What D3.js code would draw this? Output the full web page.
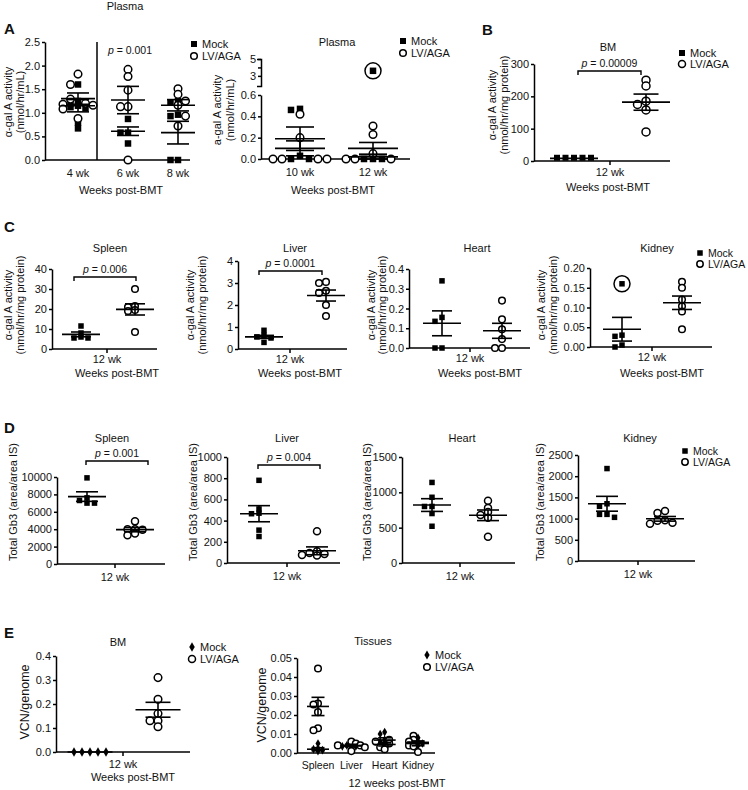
<!DOCTYPE html>
<html>
<head>
<meta charset="utf-8">
<script src="https://cdn.jsdelivr.net/npm/d3@7"></script>
<style>
  body { margin: 0; background: #fff; }
  text { font-family: "Liberation Sans", Arial, sans-serif; fill: #111; }
</style>
</head>
<body>
<div id="chart"></div>
<script>
// ---- data ----

// A: plasma, 4-8 weeks
var plasmaCats1 = ["4 wk", "6 wk", "8 wk"];
var plasmaMock1 = [[1.6, 1.25, 1.2, 1.15, 1.12, 1.1, 0.79, 0.67], [0.87, 0.58, 0.58, 0.35], [1.25, 1.22, 0.96, 0.93, 0, 0]];
var plasmaLV1 = [[1.82, 1.6, 1.29, 1.2, 1.18, 1.16, 1.08, 0.88], [1.92, 1.77, 1.48, 1.13, 1.13, 0], [1.51, 1.39, 1.25, 1.16, 0.93, 0.72]];
var plasmaMock1Mean = [1.15, 0.61, 0.58];
var plasmaMock1Sem = [0.13, 0.09, 0.24];
var plasmaLV1Mean = [1.3, 1.27, 1.16];
var plasmaLV1Sem = [0.12, 0.29, 0.12];

// A: plasma, 10-12 weeks (broken axis)
var plasmaCats2 = ["10 wk", "12 wk"];
var plasmaMock2 = [[0.47, 0.46, 0.03, 0, 0], [0, 0, 0]];
var plasmaLV2 = [[0.42, 0.2, 0, 0, 0, 0], [0.31, 0.23, 0.05, 0, 0, 0]];
var plasmaMock2Mean = [0.19, 0.02];
var plasmaMock2Sem = [0.11, 0.02];
var plasmaLV2Mean = [0.1, 0.1];
var plasmaLV2Sem = [0.07, 0.055];
var plasmaOutlier = 3.6; // circled mock point, 12 wk

// B: bone marrow activity
var wk12 = ["12 wk"];
var bmActMock = [[10, 10, 10, 10, 10]];
var bmActLV = [[250, 232, 185, 175, 158, 90]];
var bmActMean = [8, 182];
var bmActSem = [0, 25];

// C: tissue activity
var spleenActMock = [[11.5, 8, 6, 5.5, 5.5]];
var spleenActLV = [[30, 21.5, 21, 19.5, 19, 8.5]];
var spleenActMean = [7.3, 19.8];
var spleenActSem = [1.2, 2.8];
var liverActMock = [[0.85, 0.62, 0.55, 0.5, 0.3]];
var liverActLV = [[3.05, 3.0, 2.65, 2.55, 2.0, 1.5]];
var liverActMean = [0.55, 2.43];
var liverActSem = [0.07, 0.25];
var heartActMock = [[0.34, 0.155, 0.135, 0, 0]];
var heartActLV = [[0.24, 0.145, 0.095, 0.045, 0, 0]];
var heartActMean = [0.125, 0.087];
var heartActSem = [0.063, 0.038];
var kidneyActMock = [[0.03, 0.027, 0.005, 0]];
var kidneyActLV = [[0.165, 0.15, 0.12, 0.103, 0.09, 0.045]];
var kidneyActMean = [0.045, 0.112];
var kidneyActSem = [0.03, 0.017];
var kidneyActOutlier = 0.16;

// D: total Gb3
var spleenGb3Mock = [[9900, 7600, 7300, 7000, 7000]];
var spleenGb3LV = [[4900, 4000, 4000, 3950, 3500, 3300]];
var spleenGb3Mean = [7750, 3950];
var spleenGb3Sem = [550, 250];
var liverGb3Mock = [[780, 510, 470, 465, 310, 250]];
var liverGb3LV = [[300, 110, 95, 85, 75, 70]];
var liverGb3Mean = [465, 115];
var liverGb3Sem = [76, 37];
var heartGb3Mock = [[1140, 930, 800, 800, 700, 520]];
var heartGb3LV = [[880, 780, 720, 680, 640, 370]];
var heartGb3Mean = [820, 675];
var heartGb3Sem = [90, 75];
var kidneyGb3Mock = [[2180, 1350, 1290, 1100, 1100, 1030]];
var kidneyGb3LV = [[1180, 1130, 960, 950, 900, 880]];
var kidneyGb3Mean = [1350, 995];
var kidneyGb3Sem = [175, 55];

// E: vector copy number
var bmVcnMock = [[0, 0, 0, 0, 0]];
var bmVcnLV = [[0.31, 0.22, 0.16, 0.13, 0.13, 0.105]];
var bmVcnMean = [0, 0.176];
var bmVcnSem = [0, 0.031];
var tissueCats = ["Spleen", "Liver", "Heart", "Kidney"];
var vcnMock = [[0.005, 0.0025, 0.002, 0.0015, 0.001], [0.0045, 0.004, 0.0035, 0.003, 0.0035], [0.011, 0.01, 0.007, 0.006, 0.005], [0.008, 0.006, 0.005, 0.005, 0.004]];
var vcnLV = [[0.0445, 0.026, 0.0255, 0.0215, 0.013, 0.012], [0.006, 0.005, 0.004, 0.004, 0.003, 0.001], [0.007, 0.006, 0.005, 0.0035, 0.003, 0.002], [0.009, 0.007, 0.006, 0.004, 0.0035, 0.0005]];
var vcnMockMean = [0.002, 0.0037, 0.0068, 0.0056];
var vcnMockSem = [0.0008, 0.0003, 0.0012, 0.0007];
var vcnLVMean = [0.0245, 0.004, 0.0045, 0.005];
var vcnLVSem = [0.0048, 0.0006, 0.0008, 0.0012];

// ---- drawing ----
var FS = 11;
var svg = d3.select("#chart").append("svg")
  .attr("width", 748)
  .attr("height", 790);

function styleAxis(sel, fs) {
  sel.selectAll("text").attr("font-size", fs || FS).attr("fill", "#111");
  sel.selectAll("line,path").attr("stroke", "#000").attr("stroke-width", 1.5);
  return sel;
}

function marker(g, shape, x, y, o) {
  if (shape === "square") {
    g.append("rect").attr("x", x - o.sq / 2).attr("y", y - o.sq / 2)
      .attr("width", o.sq).attr("height", o.sq).attr("fill", "#000");
  } else if (shape === "diamond") {
    g.append("path").attr("d", d3.symbol(d3.symbolDiamond, o.dia || 28)())
      .attr("transform", "translate(" + x + "," + y + ")").attr("fill", "#000");
  } else {
    g.append("circle").attr("cx", x).attr("cy", y).attr("r", o.r)
      .attr("fill", "#fff").attr("stroke", "#000").attr("stroke-width", 1.5);
  }
}

function text(x, y, s, fs, anchor, weight) {
  return svg.append("text").attr("x", x).attr("y", y)
    .attr("font-size", fs || FS).attr("text-anchor", anchor || "middle")
    .attr("font-weight", weight || "normal").text(s);
}

function yTitle(lines, xs, cy, fs) {
  lines.forEach(function(s, i) {
    svg.append("text").attr("transform", "translate(" + xs[i] + "," + cy + ") rotate(-90)")
      .attr("text-anchor", "middle").attr("font-size", fs || FS).text(s);
  });
}

function legend(x, y1, y2, mockShape, o) {
  var g = svg.append("g");
  marker(g, mockShape, x, y1, o);
  marker(g, "circle", x, y2, o);
  text(x + 8, y1 + 4, "Mock", o.fs || FS, "start");
  text(x + 8, y2 + 4, "LV/AGA", o.fs || FS, "start");
}

function pBracket(xa, xb, yb, label) {
  svg.append("path")
    .attr("d", "M" + xa + "," + (yb + 4) + "V" + yb + "H" + xb + "V" + (yb + 4))
    .attr("fill", "none").attr("stroke", "#000").attr("stroke-width", 1.4);
  pText((xa + xb) / 2, yb - 4, label);
}

function pText(x, y, label) {
  var t = svg.append("text").attr("x", x).attr("y", y).attr("font-size", 10.5).attr("text-anchor", "middle");
  t.append("tspan").attr("font-style", "italic").text("p");
  t.append("tspan").text(" = " + label);
}

function panel(o) {
  var y = o.yScale || d3.scaleLinear().domain(o.domain).range([o.yBot, o.yTop]);
  var x = d3.scalePoint().domain(o.cats).range(o.catRange);
  var g = svg.append("g");

  if (!o.yScale) {
    var axis = d3.axisLeft(y).tickValues(o.ticks).tickFormat(d3.format(o.fmt))
      .tickSize(3).tickPadding(2).tickSizeOuter(0);
    styleAxis(g.append("g").attr("transform", "translate(" + o.x0 + ",0)").call(axis));
  }

  g.append("line").attr("x1", o.x0).attr("x2", o.x1)
    .attr("y1", o.yBot).attr("y2", o.yBot)
    .attr("stroke", "#000").attr("stroke-width", 1.5);

  o.cats.forEach(function(c) {
    if (o.catTicks) {
      g.append("line").attr("x1", x(c)).attr("x2", x(c))
        .attr("y1", o.yBot).attr("y2", o.yBot + 4)
        .attr("stroke", "#000").attr("stroke-width", 1.5);
    }
    text(x(c), o.yBot + o.labelDy, c, o.catFs || FS);
  });

  // points, spread sideways so they do not overlap too much
  var placed = [];
  var gapY = o.gapY || o.gap * 0.5;
  o.groups.forEach(function(grp) {
    grp.values.forEach(function(vals, i) {
      var cx = x(o.cats[i]) + grp.dx;
      vals.forEach(function(v) {
        var py = y(v), off = 0;
        for (var k = 0; k < 30; k++) {
          off = k === 0 ? 0 : (k % 2 ? -1 : 1) * Math.ceil(k / 2) * o.gap;
          var hit = placed.some(function(p) {
            return Math.abs(p.x - (cx + off)) < o.gap * 0.9 && Math.abs(p.y - py) < gapY;
          });
          if (!hit) break;
        }
        placed.push({ x: cx + off, y: py, shape: grp.shape });
      });
    });
  });
  placed.forEach(function(p) { marker(g, p.shape, p.x, p.y, o); });

  // mean and SEM
  o.groups.forEach(function(grp) {
    grp.mean.forEach(function(m, i) {
      var cx = x(o.cats[i]) + grp.dx;
      var s = grp.sem[i];
      var ln = function(x1, x2, y1, y2) {
        g.append("line").attr("x1", x1).attr("x2", x2).attr("y1", y1).attr("y2", y2)
          .attr("stroke", "#000").attr("stroke-width", 1.6);
      };
      ln(cx - o.mw / 2, cx + o.mw / 2, y(m), y(m));
      if (s > 0) {
        ln(cx, cx, y(m - s), y(m + s));
        ln(cx - o.cw / 2, cx + o.cw / 2, y(m + s), y(m + s));
        ln(cx - o.cw / 2, cx + o.cw / 2, y(m - s), y(m - s));
      }
    });
  });
  return { x: x, y: y, g: g };
}

function ring(x, y) {
  svg.append("circle").attr("cx", x).attr("cy", y).attr("r", 8)
    .attr("fill", "none").attr("stroke", "#000").attr("stroke-width", 1.5);
}

// ---- panel A ----
text(125, 10, "Plasma");
text(4, 34, "A", 15, "start", "bold");
panel({
  x0: 45, x1: 190, yBot: 160, yTop: 42, domain: [0, 2.5], ticks: [0, 0.5, 1, 1.5, 2, 2.5], fmt: ".1f",
  cats: plasmaCats1, catRange: [78, 178], labelDy: 17, gap: 7.5, gapY: 3.5, r: 3.8, sq: 6.5, mw: 34, cw: 22,
  groups: [
    { values: plasmaMock1, mean: plasmaMock1Mean, sem: plasmaMock1Sem, shape: "square", dx: 0 },
    { values: plasmaLV1, mean: plasmaLV1Mean, sem: plasmaLV1Sem, shape: "circle", dx: 0 }
  ]
});
svg.append("line").attr("x1", 97).attr("x2", 97).attr("y1", 42).attr("y2", 160)
  .attr("stroke", "#000").attr("stroke-width", 1.5);
pText(130, 54, "0.001");
legend(194, 44, 56, "square", { r: 3.3, sq: 6 });
yTitle(["\u03b1-gal A activity", "(nmol/hr/mL)"], [12, 24], 102);
text(121, 194, "Weeks post-BMT");

// broken axis for 10-12 weeks
var yLow = d3.scaleLinear().domain([0, 0.6]).range([159, 95]);
var yHigh = d3.scaleLinear().domain([1.8, 5]).range([86, 59]);
var yBroken = function(v) { return v > 1 ? yHigh(v) : yLow(v); };
styleAxis(svg.append("g").attr("transform", "translate(261,0)")
  .call(d3.axisLeft(yLow).tickValues([0, 0.2, 0.4, 0.6]).tickFormat(d3.format(".1f")).tickSize(3).tickPadding(2).tickSizeOuter(0)));
styleAxis(svg.append("g").attr("transform", "translate(261,0)")
  .call(d3.axisLeft(yHigh).tickValues([3, 4, 5]).tickFormat(function(d) { return d === 4 ? "" : d; }).tickSize(3).tickPadding(2).tickSizeOuter(4)));
var pa = panel({
  x0: 261, x1: 410, yBot: 159, yScale: yBroken,
  cats: plasmaCats2, catRange: [300, 373], labelDy: 17, gap: 9, gapY: 4, r: 3.8, sq: 6.5, mw: 50, cw: 28,
  groups: [
    { values: plasmaMock2, mean: plasmaMock2Mean, sem: plasmaMock2Sem, shape: "square", dx: 0 },
    { values: plasmaLV2, mean: plasmaLV2Mean, sem: plasmaLV2Sem, shape: "circle", dx: 0 }
  ]
});
marker(svg, "square", pa.x("12 wk"), yBroken(plasmaOutlier), { sq: 6.5 });
ring(pa.x("12 wk"), yBroken(plasmaOutlier));
text(337, 46, "Plasma");
legend(403, 41, 53, "square", { r: 3.3, sq: 6 });
yTitle(["a-gal A activity", "(nmol/hr/mL)"], [221, 234], 110);
text(333, 194, "Weeks post-BMT");

// ---- panel B ----
text(482, 35, "B", 15, "start", "bold");
panel({
  x0: 534, x1: 670, yBot: 161, yTop: 64, domain: [0, 300], ticks: [0, 100, 200, 300], fmt: "d",
  cats: wk12, catRange: [610, 610], catTicks: true, labelDy: 15, gap: 8.5, r: 4, sq: 6, mw: 48, cw: 25,
  groups: [
    { values: bmActMock, mean: [bmActMean[0]], sem: [bmActSem[0]], shape: "square", dx: -36 },
    { values: bmActLV, mean: [bmActMean[1]], sem: [bmActSem[1]], shape: "circle", dx: 36 }
  ]
});
text(608, 51, "BM");
pBracket(578, 641, 71, "0.00009");
legend(682, 53, 64, "square", { r: 3.5, sq: 6 });
yTitle(["\u03b1-gal A activity", "(nmol/hr/mg protein)"], [496, 508], 105);
text(608, 191, "Weeks post-BMT");

// ---- panel C ----
text(4, 232, "C", 15, "start", "bold");
var actPanels = [
  { name: "Spleen", tx0: 110, x0: 52, x1: 157, tick: 107, dxs: [-26, 28], top: 269, bot: 349, dom: [0, 40], ticks: [0, 10, 20, 30, 40], fmt: "d",
    mock: spleenActMock, lv: spleenActLV, mean: spleenActMean, sem: spleenActSem, tx: [12, 24], p: [74, 136, 277, "0.006"] },
  { name: "Liver", tx0: 295, x0: 238, x1: 347, tick: 290, dxs: [-26, 36], top: 261, bot: 349, dom: [0, 4], ticks: [0, 1, 2, 3, 4], fmt: "d",
    mock: liverActMock, lv: liverActLV, mean: liverActMean, sem: liverActSem, tx: [194, 206], p: [259, 322, 271, "0.0001"] },
  { name: "Heart", tx0: 477, x0: 409, x1: 530, tick: 470, dxs: [-28, 32], top: 269, bot: 348, dom: [0, 0.4], ticks: [0, 0.1, 0.2, 0.3, 0.4], fmt: ".1f",
    mock: heartActMock, lv: heartActLV, mean: heartActMean, sem: heartActSem, tx: [375, 386] },
  { name: "Kidney", tx0: 657, x0: 590, x1: 712, tick: 652, dxs: [-30, 30], top: 268, bot: 347, dom: [0, 0.2], ticks: [0, 0.05, 0.1, 0.15, 0.2], fmt: ".2f",
    mock: kidneyActMock, lv: kidneyActLV, mean: kidneyActMean, sem: kidneyActSem, tx: [545, 557] }
];
actPanels.forEach(function(c) {
  var res = panel({
    x0: c.x0, x1: c.x1, yBot: c.bot, yTop: c.top, domain: c.dom, ticks: c.ticks, fmt: c.fmt,
    cats: wk12, catRange: [c.tick, c.tick], catTicks: true, labelDy: 14, gap: 7, gapY: 4, r: 3.3, sq: 5.5, mw: 38, cw: 20,
    groups: [
      { values: c.mock, mean: [c.mean[0]], sem: [c.sem[0]], shape: "square", dx: c.dxs[0] },
      { values: c.lv, mean: [c.mean[1]], sem: [c.sem[1]], shape: "circle", dx: c.dxs[1] }
    ]
  });
  text(c.tx0, 252, c.name);
  if (c.p) pBracket(c.p[0], c.p[1], c.p[2], c.p[3]);
  yTitle(["\u03b1-gal A activity", "(nmol/hr/mg protein)"], c.tx, 305);
  text(c.tick + 10, 377, "Weeks post-BMT");
  if (c.name === "Kidney") {
    var kx = c.tick + c.dxs[0], ky = res.y(kidneyActOutlier);
    marker(svg, "square", kx, ky, { sq: 5.5 });
    ring(kx, ky);
  }
});
legend(700, 253, 264, "square", { r: 3.2, sq: 5.5, fs: 10.5 });

// ---- panel D ----
text(4, 433, "D", 15, "start", "bold");
var gb3Panels = [
  { name: "Spleen", tx0: 112, x0: 57, x1: 165, tick: 115, dxs: [-28, 20], top: 477, bot: 564, dom: [0, 10000], ticks: d3.range(0, 10001, 2000),
    mock: spleenGb3Mock, lv: spleenGb3LV, mean: spleenGb3Mean, sem: spleenGb3Sem, tx: 17, p: [86, 148, 461, "0.001"] },
  { name: "Liver", tx0: 287, x0: 227, x1: 340, tick: 287, dxs: [-28, 30], top: 457, bot: 563, dom: [0, 1000], ticks: d3.range(0, 1001, 200),
    mock: liverGb3Mock, lv: liverGb3LV, mean: liverGb3Mean, sem: liverGb3Sem, tx: 197, p: [258, 320, 465, "0.004"] },
  { name: "Heart", tx0: 462, x0: 402, x1: 515, tick: 460, dxs: [-28, 28], top: 457, bot: 563, dom: [0, 1500], ticks: [0, 500, 1000, 1500],
    mock: heartGb3Mock, lv: heartGb3LV, mean: heartGb3Mean, sem: heartGb3Sem, tx: 371 },
  { name: "Kidney", tx0: 640, x0: 578, x1: 695, tick: 638, dxs: [-31, 27], top: 455, bot: 561, dom: [0, 2500], ticks: d3.range(0, 2501, 500),
    mock: kidneyGb3Mock, lv: kidneyGb3LV, mean: kidneyGb3Mean, sem: kidneyGb3Sem, tx: 544 }
];
gb3Panels.forEach(function(c) {
  panel({
    x0: c.x0, x1: c.x1, yBot: c.bot, yTop: c.top, domain: c.dom, ticks: c.ticks, fmt: "d",
    cats: wk12, catRange: [c.tick, c.tick], catTicks: true, labelDy: 17, gap: 7.5, gapY: 4, r: 3.5, sq: 5.5, mw: 38, cw: 22,
    groups: [
      { values: c.mock, mean: [c.mean[0]], sem: [c.sem[0]], shape: "square", dx: c.dxs[0] },
      { values: c.lv, mean: [c.mean[1]], sem: [c.sem[1]], shape: "circle", dx: c.dxs[1] }
    ]
  });
  text(c.tx0, 442, c.name);
  if (c.p) pBracket(c.p[0], c.p[1], c.p[2], c.p[3]);
  yTitle(["Total Gb3 (area/area IS)"], [c.tx], 502);
});
legend(685, 451, 462, "square", { r: 3.2, sq: 5.5, fs: 10.5 });

// ---- panel E ----
text(4, 638, "E", 15, "start", "bold");
panel({
  x0: 56, x1: 190, yBot: 752, yTop: 656, domain: [0, 0.4], ticks: [0, 0.1, 0.2, 0.3, 0.4], fmt: ".1f",
  cats: wk12, catRange: [123, 123], catTicks: true, labelDy: 16, gap: 8, gapY: 4, r: 3.8, dia: 26, mw: 45, cw: 25,
  groups: [
    { values: bmVcnMock, mean: [bmVcnMean[0]], sem: [bmVcnSem[0]], shape: "diamond", dx: -33 },
    { values: bmVcnLV, mean: [bmVcnMean[1]], sem: [bmVcnSem[1]], shape: "circle", dx: 35 }
  ]
});
text(118, 646, "BM");
legend(192, 647, 659, "diamond", { r: 3.5, dia: 26 });
yTitle(["VCN/genome"], [29], 702, 12.5);
text(133, 781, "Weeks post-BMT");

panel({
  x0: 297, x1: 435, yBot: 753, yTop: 658, domain: [0, 0.05], ticks: [0, 0.01, 0.02, 0.03, 0.04, 0.05], fmt: ".2f",
  cats: tissueCats, catRange: [318, 418], catFs: 10.5, labelDy: 16, gap: 4.5, gapY: 2.2, r: 3.3, dia: 22, mw: 22, cw: 13,
  groups: [
    { values: vcnMock, mean: vcnMockMean, sem: vcnMockSem, shape: "diamond", dx: 0 },
    { values: vcnLV, mean: vcnLVMean, sem: vcnLVSem, shape: "circle", dx: 0 }
  ]
});
text(373, 645, "Tissues");
legend(427, 655, 667, "diamond", { r: 3.3, dia: 24 });
yTitle(["VCN/genome"], [266], 705, 12.5);
text(397, 787, "12 weeks post-BMT");
</script>
</body>
</html>
